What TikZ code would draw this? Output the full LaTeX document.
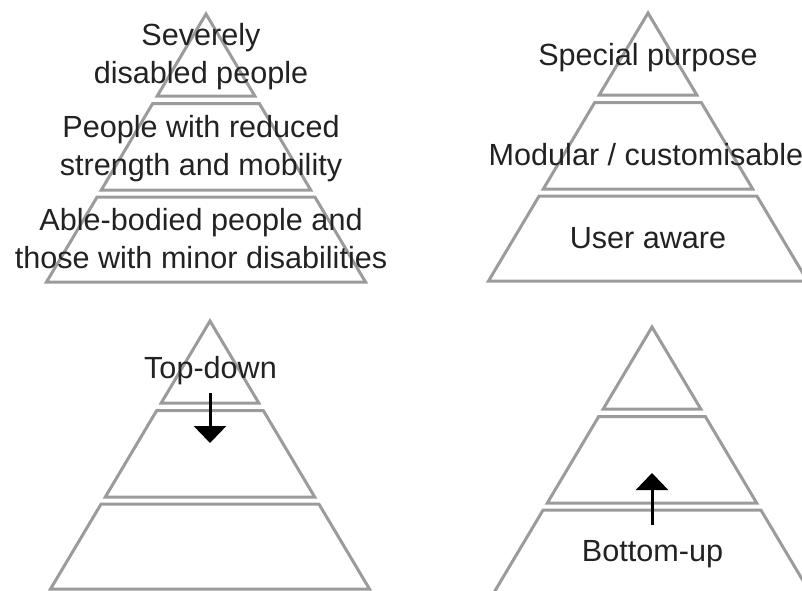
\documentclass[tikz,border=0pt]{standalone}
\usepackage{fontspec}
\setmainfont{Liberation Sans}
\usepackage{tikz}
\usetikzlibrary{positioning}
\usetikzlibrary{arrows.meta}
\usepackage{xcolor}
\definecolor{pyrgray}{HTML}{9B9B9B}
\definecolor{txtgray}{HTML}{222222}
\tikzset{
	x=1pt, y=-1pt,
	band/.style={draw=pyrgray, line width=3pt, line join=miter},
	lbl/.style={anchor=base, align=center, inner sep=0pt, text=txtgray,
		font=\fontsize{30.6}{37.5}\selectfont},
	push/.style={-{Triangle[width=32pt,length=17pt]}, line width=3pt, black},
	pyramid/.pic={
		\draw[band] (0,0) -- (-48.8,82) -- (48.8,82) -- cycle;
		\draw[band] (-53.3,89.5) -- (-104.7,176) -- (104.7,176) -- (53.3,89.5) -- cycle;
		\draw[band] (-108.9,183) -- (-159.5,268) -- (159.5,268) -- (108.9,183) -- cycle;
	}
}

\begin{document}
\begin{tikzpicture}
			\useasboundingbox (0,0) rectangle (802,590);
			
			% Pyramids
			\pic at (206,14) {pyramid};
			\pic at (648,13) {pyramid};
			\pic at (210,321) {pyramid};
			\pic at (652,327) {pyramid};
			
			% User groups
			\node (sev) [lbl] at (201,83) {Severely\\disabled people};
			\node (red) [lbl] at (201,175) {People with reduced\\strength and mobility};
			\node (able) [lbl] at (201,268) {Able-bodied people and\\those with minor disabilities};
			
			% Product types
			\node (spec) [lbl] at (648,65) {Special purpose};
			\node (mod) [lbl] at (646,165) {Modular / customisable};
			\node (user) [lbl] at (648,248) {User aware};
			
			% Directions
			\node (td) [lbl] at (210.5,378) {Top-down};
			\node (bu) [lbl] at (652.5,561) {Bottom-up};
			\coordinate (td_start) at (210,393);
			\coordinate (td_end) at (210,443);
			\coordinate (bu_start) at (652,525);
			\coordinate (bu_end) at (652,473);
			
			\path[push] (td_start) edge (td_end);
			\path[push] (bu_start) edge (bu_end);
			
		\end{tikzpicture}
\end{document}
